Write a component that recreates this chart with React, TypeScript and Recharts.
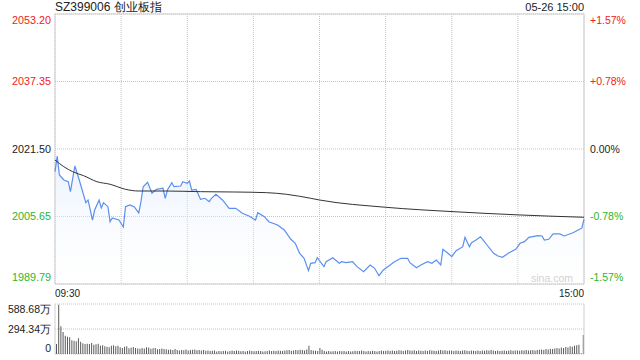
import React from 'react';
import {
  ComposedChart,
  Line,
  Area,
  XAxis,
  YAxis,
  CartesianGrid,
  ReferenceArea,
  ReferenceLine,
  BarChart,
  Bar,
} from 'recharts';

// ---- data ----
const priceMinutes = [
  0, 1, 2, 4, 6, 7, 9, 11, 14, 15, 17, 18, 20, 21, 22, 24, 25, 26, 29, 31, 32, 34, 36, 38, 39, 40, 42, 44, 46, 49,
  50, 51, 53, 54, 57, 58, 60, 61, 62, 64, 66, 68, 70, 71, 73, 76, 79, 82, 85, 88, 91, 92, 95, 97, 101, 104, 107, 109,
  111, 113, 115, 116, 118, 119, 122, 123, 126, 129, 130, 132, 135, 137, 140, 143, 145, 147, 149, 151, 154, 157, 160,
  161, 164, 166, 169, 171, 173, 175, 176, 178, 180, 182, 185, 186, 188, 189, 191, 193, 194, 196, 199, 201, 203, 206,
  209, 211, 213, 215, 219, 221, 222, 224, 226, 229, 231, 235, 238, 239, 240,
];
const priceValues = [
  2016.17, 2019.85, 2015.39, 2014.22, 2013.82, 2011.47, 2017.5, 2014.22, 2008.89, 2009.52, 2004.82, 2007.17, 2009.52,
  2007.64, 2008.89, 2007.95, 2004.42, 2005.29, 2004.82, 2003.18, 2007.95, 2008.35, 2007.88, 2006.47, 2009.12, 2012.64,
  2013.68, 2011.09, 2012.03, 2012.27, 2009.92, 2011.87, 2013.58, 2012.64, 2012.81, 2013.82, 2013.44, 2013.98, 2011.87,
  2012.03, 2009.68, 2009.92, 2009.12, 2009.92, 2010.86, 2009.52, 2007.57, 2007.57, 2006.4, 2005.76, 2004.82, 2006.54,
  2005.6, 2004.42, 2003.65, 2002.47, 2000.29, 1999.35, 1997.0, 1995.83, 1992.92, 1994.65, 1994.8, 1995.97, 1993.86,
  1995.03, 1995.97, 1994.65, 1995.03, 1994.8, 1995.03, 1993.86, 1992.68, 1994.26, 1993.48, 1991.74, 1993.08, 1993.86,
  1995.03, 1995.83, 1995.83, 1994.8, 1993.62, 1994.26, 1995.03, 1994.65, 1995.43, 1994.26, 1997.94, 1997.14, 1996.21,
  1997.61, 1998.55, 2000.76, 1998.55, 1999.49, 2000.13, 2000.9, 2000.29, 1998.95, 1997.0, 1996.37, 1996.06, 1997.14,
  1997.94, 1999.35, 1999.73, 2000.76, 2001.14, 2001.07, 2000.13, 2000.29, 2001.54, 2001.54, 2001.07, 2001.84, 2002.64,
  2002.9, 2005.0,
];
const avgMinutes = [0, 4, 8, 13, 19, 25, 32, 38, 50, 66, 81, 96, 105, 116, 120, 150, 181, 211, 240];
const avgValues = [
  2018.91, 2017.34, 2016.17, 2015.23, 2013.82, 2013.21, 2012.03, 2011.63, 2011.63, 2011.47, 2011.4, 2011.24, 2010.86,
  2009.92, 2009.52, 2007.81, 2006.77, 2006.0, 2005.46,
];

const priceTicks = [1989.79, 2005.65, 2021.5, 2037.35, 2053.2];
const priceTickLabels = ['1989.79', '2005.65', '2021.50', '2037.35', '2053.20'];
const pctTickLabels = ['-1.57%', '-0.78%', '0.00%', '+0.78%', '+1.57%'];
const timeTicks = [0, 30, 60, 90, 120, 150, 180, 210, 240];
const timeTickLabels = ['09:30', '', '', '', '', '', '', '', '15:00'];

const volumeValues = [
  118, 580, 326, 259, 216, 204, 196, 161, 157, 149,
  184, 145, 126, 118, 122, 118, 130, 110, 114, 122,
  98, 104, 92, 86, 80, 98, 104, 90, 96, 80,
  72, 84, 90, 68, 74, 82, 70, 66, 62, 72,
  64, 80, 78, 62, 68, 72, 56, 60, 64, 58,
  56, 50, 54, 48, 58, 46, 42, 48, 44, 52,
  40, 46, 50, 54, 44, 48, 40, 46, 38, 42,
  34, 38, 40, 30, 36, 32, 34, 38, 30, 34,
  40, 36, 42, 38, 32, 36, 30, 34, 40, 36,
  32, 36, 38, 34, 30, 32, 36, 40, 34, 38,
  36, 42, 38, 34, 40, 44, 46, 38, 42, 48,
  44, 50, 46, 40, 52, 96, 48, 42, 38, 36,
  70, 50, 36, 30, 34, 28, 32, 36, 30, 34,
  32, 36, 30, 34, 28, 32, 38, 34, 36, 40,
  34, 30, 36, 32, 38, 34, 30, 36, 40, 34,
  38, 42, 36, 40, 34, 38, 44, 40, 36, 42,
  46, 40, 38, 44, 36, 42, 38, 34, 40, 36,
  44, 40, 38, 36, 42, 48, 40, 44, 38, 42,
  40, 36, 42, 38, 34, 40, 44, 38, 36, 42,
  38, 34, 40, 36, 42, 38, 44, 40, 46, 42,
  36, 40, 34, 38, 42, 36, 40, 44, 38, 42,
  40, 38, 44, 40, 46, 42, 44, 48, 42, 46,
  50, 54, 48, 58, 54, 62, 58, 66, 70, 64,
  76, 72, 82, 78, 90, 86, 96, 104, 110, 10,
  224,
];
const volTicks = [0, 294.34, 588.68];
const volTickLabels = ['0', '294.34万', '588.68万'];

// ---- derived tables ----
const minuteSet = Array.from(new Set([...priceMinutes, ...avgMinutes])).sort((a, b) => a - b);
const mainData = minuteSet.map((m) => {
  const pi = priceMinutes.indexOf(m);
  const ai = avgMinutes.indexOf(m);
  return { m, price: pi >= 0 ? priceValues[pi] : null, avg: ai >= 0 ? avgValues[ai] : null };
});
const volData = volumeValues.map((v, i) => ({ m: i, v }));

const FONT = '"Liberation Sans", Arial, Helvetica, sans-serif';
const RED = '#ee2222';
const GREEN = '#2db52d';
const DARK = '#222222';
const GRID = '#c4c4c4';
const BORDER = '#cfcfcf';

const colorFor = (i: number) => (i < 2 ? GREEN : i === 2 ? DARK : RED);
const dyFor = (i: number, n: number) => (i === n - 1 ? 10 : i === 0 ? -3 : 4);

const PriceTick = (props: any) => {
  const { x, y, payload } = props;
  const i = priceTicks.indexOf(payload.value);
  return (
    <text x={x} y={y} dy={dyFor(i, priceTicks.length)} textAnchor="end" fill={colorFor(i)} fontSize={10.8} fontFamily={FONT}>
      {priceTickLabels[i]}
    </text>
  );
};

const PctTick = (props: any) => {
  const { x, y, payload } = props;
  const i = priceTicks.indexOf(payload.value);
  return (
    <text x={x} y={y} dy={dyFor(i, priceTicks.length)} textAnchor="start" fill={colorFor(i)} fontSize={10.5} fontFamily={FONT}>
      {pctTickLabels[i]}
    </text>
  );
};

const TimeTick = (props: any) => {
  const { x, y, payload } = props;
  const i = timeTicks.indexOf(payload.value);
  const label = timeTickLabels[i];
  if (!label) return null;
  return (
    <text x={x} y={y} dy={12.5} textAnchor={i === 0 ? 'start' : 'end'} fill={DARK} fontSize={10} fontFamily={FONT}>
      {label}
    </text>
  );
};

const VolTick = (props: any) => {
  const { x, y, payload } = props;
  const i = volTicks.indexOf(payload.value);
  const dy = i === volTicks.length - 1 ? 9 : i === 0 ? -2 : 4;
  return (
    <text x={x} y={y} dy={dy} textAnchor="end" fill={DARK} fontSize={10.5} fontFamily={FONT}>
      {volTickLabels[i]}
    </text>
  );
};

export default function App() {
  const pMin = priceTicks[0];
  const pMax = priceTicks[priceTicks.length - 1];
  return (
    <div style={{ position: 'absolute', left: 0, top: 0, width: 640, height: 360, background: '#fff', fontFamily: FONT }}>
      <div style={{ position: 'absolute', left: 55, top: 0, fontSize: 12, lineHeight: '14px', color: DARK, whiteSpace: 'nowrap' }}>
        SZ399006 创业板指
      </div>
      <div style={{ position: 'absolute', right: 56, top: 0, fontSize: 11, lineHeight: '14px', color: DARK, whiteSpace: 'nowrap' }}>
        05-26 15:00
      </div>

      <div style={{ position: 'absolute', left: 0, top: 0 }}>
        <ComposedChart width={640} height={300} data={mainData} margin={{ top: 14, right: 0, left: 0, bottom: 0 }}>
          <defs>
            <linearGradient id="priceFill" x1="0" y1="0" x2="0" y2="1">
              <stop offset="0%" stopColor="#d6e4fb" stopOpacity={0.85} />
              <stop offset="100%" stopColor="#ffffff" stopOpacity={0.3} />
            </linearGradient>
          </defs>
          <CartesianGrid yAxisId="left" stroke={GRID} strokeDasharray="1 1" />
          <XAxis
            dataKey="m"
            type="number"
            domain={[0, 240]}
            ticks={timeTicks}
            interval={0}
            height={16}
            tickSize={0}
            tickMargin={0}
            axisLine={false}
            tickLine={false}
            tick={<TimeTick />}
          />
          <YAxis
            yAxisId="left"
            orientation="left"
            width={55}
            domain={[pMin, pMax]}
            ticks={priceTicks}
            interval={0}
            tickSize={0}
            tickMargin={4}
            axisLine={false}
            tickLine={false}
            allowDataOverflow
            tick={<PriceTick />}
          />
          <YAxis
            yAxisId="right"
            orientation="right"
            width={56}
            domain={[pMin, pMax]}
            ticks={priceTicks}
            interval={0}
            tickSize={0}
            tickMargin={6}
            axisLine={false}
            tickLine={false}
            allowDataOverflow
            tick={<PctTick />}
          />
          <Area
            yAxisId="left"
            type="linear"
            dataKey="price"
            stroke="none"
            fill="url(#priceFill)"
            baseValue={pMin}
            connectNulls
            isAnimationActive={false}
            dot={false}
            activeDot={false}
          />
          <Line
            yAxisId="left"
            type="linear"
            dataKey="price"
            stroke="#5b8fee"
            strokeWidth={1.2}
            connectNulls
            dot={false}
            activeDot={false}
            isAnimationActive={false}
          />
          <Line
            yAxisId="left"
            type="monotone"
            dataKey="avg"
            stroke="#333333"
            strokeWidth={1}
            connectNulls
            dot={false}
            activeDot={false}
            isAnimationActive={false}
          />
          <Line
            yAxisId="right"
            dataKey="avg"
            stroke="transparent"
            strokeWidth={0}
            connectNulls
            dot={false}
            activeDot={false}
            isAnimationActive={false}
          />
          <ReferenceArea yAxisId="left" x1={0} x2={240} y1={pMin} y2={pMax} fill="none" stroke={BORDER} strokeWidth={1} />
        </ComposedChart>
      </div>

      <div style={{ position: 'absolute', right: 67, top: 271, fontSize: 10.5, lineHeight: '14px', color: '#d2d2d2', whiteSpace: 'nowrap' }}>
        sina.com
      </div>

      <div style={{ position: 'absolute', left: 0, top: 290 }}>
        <BarChart width={640} height={70} data={volData} margin={{ top: 14, right: 56, left: 0, bottom: 6 }}>
          <CartesianGrid vertical={false} stroke={GRID} strokeDasharray="1 1" />
          <XAxis dataKey="m" type="number" domain={[-0.5, 240.5]} hide />
          <YAxis
            width={55}
            domain={[0, 588.68]}
            ticks={volTicks}
            interval={0}
            tickSize={0}
            tickMargin={4}
            axisLine={false}
            tickLine={false}
            allowDataOverflow
            tick={<VolTick />}
          />
          <Bar dataKey="v" fill="#5a5a5a" barSize={1} isAnimationActive={false} />
          <ReferenceLine x={-0.5} stroke={BORDER} />
          <ReferenceLine x={240.5} stroke={BORDER} />
        </BarChart>
      </div>
    </div>
  );
}
